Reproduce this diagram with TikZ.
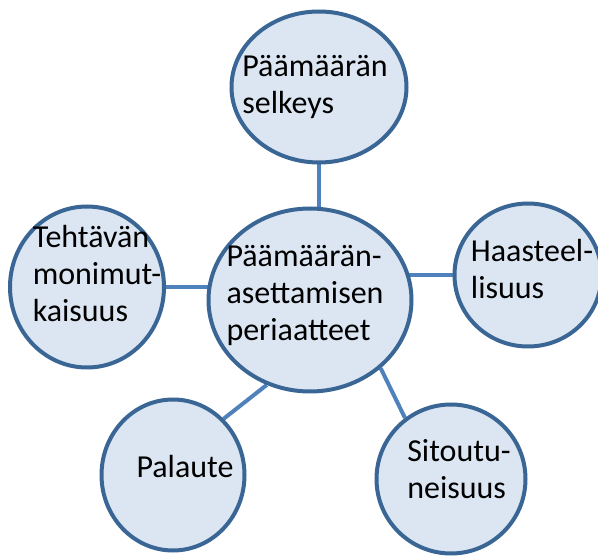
\documentclass[tikz,border=0pt]{standalone}
\usepackage{fontspec}
\setmainfont{Carlito}
\usetikzlibrary{shapes.geometric, backgrounds}
\definecolor{bubblefill}{HTML}{DCE6F2}
\definecolor{bubbleline}{HTML}{3A6695}
\definecolor{linkline}{HTML}{4F81BD}
\begin{document}
\begin{tikzpicture}[x=1pt, y=-1pt,
		bubble/.style={ellipse, draw=bubbleline, fill=bubblefill, line width=4pt, inner sep=0pt},
		txt/.style={align=left, font=\fontsize{32}{37}\selectfont},
		link/.style={draw=linkline, line width=4pt}]
		\useasboundingbox (0,0) rectangle (598,556);
		
		% Centre
		\node[bubble, minimum width=203pt, minimum height=183pt,
			label={[txt, xshift=-5pt, yshift=5pt]center:{Päämäärän-\\asettamisen\\periaatteet}}] (core) at (310,300) {};
		
		% Surrounding circles
		\node[bubble, minimum width=175pt, minimum height=151pt,
			label={[txt, xshift=-4pt]center:{Päämäärän\\selkeys}}] (goal) at (319,87) {};
		\node[bubble, minimum width=154pt, minimum height=161pt,
			label={[txt, xshift=10pt, yshift=13pt]center:{Tehtävän\\monimut-\\kaisuus}}] (task) at (87,287) {};
		\node[bubble, minimum width=147pt, minimum height=143pt,
			label={[txt, xshift=4pt, yshift=6pt]center:{Haasteel-\\lisuus}}] (chal) at (528,275) {};
		\node[bubble, minimum width=143pt, minimum height=151pt,
			label={[txt, xshift=12pt, yshift=8pt]center:{Palaute}}] (fb) at (173,475) {};
		\node[bubble, minimum width=149pt, minimum height=149pt,
			label={[txt, xshift=8pt, yshift=10pt]center:{Sitoutu-\\neisuus}}] (commit) at (451,479) {};
		
		% Connectors
		\begin{scope}[on background layer]
			\draw[link] (goal.south) -- (goal.south |- core.center);
			\draw[link] (task.east) -- (task.east -| core.center);
			\draw[link] (chal.west) -- (chal.west -| core.center);
			\draw[link] (core.243) -- (fb.48);
			\draw[link] (core.316) -- (commit.127);
		\end{scope}
	\end{tikzpicture}
\end{document}
